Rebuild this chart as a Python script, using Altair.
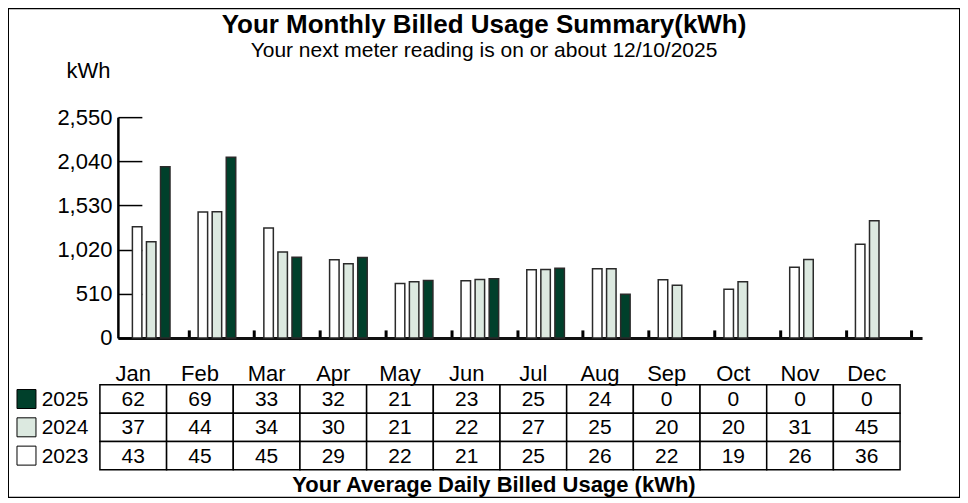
import altair as alt
import pandas as pd

# ---------------- data ----------------
months = ["Jan", "Feb", "Mar", "Apr", "May", "Jun", "Jul", "Aug", "Sep", "Oct", "Nov", "Dec"]
years = ["2023", "2024", "2025"]
rows_top_down = ["2025", "2024", "2023"]

kwh_2023 = [1284, 1454, 1269, 902, 629, 659, 786, 798, 671, 563, 817, 1083]
kwh_2024 = [1110, 1457, 991, 856, 648, 675, 791, 798, 609, 648, 906, 1353]
kwh_2025 = [1978, 2086, 933, 930, 664, 682, 806, 505]  # Jan..Aug

avg_2025 = [62, 69, 33, 32, 21, 23, 25, 24, 0, 0, 0, 0]
avg_2024 = [37, 44, 34, 30, 21, 22, 27, 25, 20, 20, 31, 45]
avg_2023 = [43, 45, 45, 29, 22, 21, 25, 26, 22, 19, 26, 36]

y_ticks = [0, 510, 1020, 1530, 2040, 2550]
year_colors = ["#ffffff", "#dce9e0", "#00402b"]

title_text = "Your Monthly Billed Usage Summary(kWh)"
subtitle_text = "Your next meter reading is on or about 12/10/2025"
table_title = "Your Average Daily Billed Usage (kWh)"

# ---------------- tables ----------------
bar_rows = []
for y, vals in zip(years, [kwh_2023, kwh_2024, kwh_2025]):
    for m, v in zip(months, vals):
        bar_rows.append({"month": m, "year": y, "kwh": v})
df_bars = pd.DataFrame(bar_rows)

tab_rows = []
for y, vals in zip(rows_top_down, [avg_2025, avg_2024, avg_2023]):
    for m, v in zip(months, vals):
        tab_rows.append({"month": m, "year": y, "avg": v})
df_tab = pd.DataFrame(tab_rows)

df_leg = pd.DataFrame({"year": rows_top_down})

W, H = 953, 490
FONT = "Liberation Sans"

# ---------------- scales ----------------
x_bars = alt.Scale(domain=months, range=[110, 915], paddingInner=0, paddingOuter=0.117, align=0.34)
y_bars = alt.Scale(domain=[0, 2550], range=[330, 109], nice=False, zero=True)
x_off = alt.Scale(domain=years, paddingInner=0.325, paddingOuter=1, align=0.33)
col = alt.Scale(domain=years, range=year_colors)
x_tab = alt.Scale(domain=months, range=[92, 893], paddingInner=0, paddingOuter=0)
y_tab = alt.Scale(domain=rows_top_down, range=[377, 462], paddingInner=0, paddingOuter=0)

bars = alt.Chart(df_bars).mark_bar(stroke="#2a2a2a", strokeWidth=1.5).encode(
    x=alt.X("month:N", scale=x_bars, sort=months,
            axis=alt.Axis(orient="top", offset=-330, labels=False, title=None, grid=False,
                          domainColor="#111", domainWidth=3, tickColor="#000", tickWidth=3,
                          tickSize=8, bandPosition=1)),
    xOffset=alt.XOffset("year:N", scale=x_off),
    y=alt.Y("kwh:Q", scale=y_bars,
            axis=alt.Axis(orient="left", offset=-110, values=y_ticks, format=",.0f", ticks=False,
                          domain=False, grid=False, labelFontSize=22, labelPadding=6,
                          labelColor="#000", labelFont=FONT,
                          title="kWh", titleAngle=0, titleX=-30, titleY=69, titleAlign="center",
                          titleBaseline="alphabetic", titleFontSize=22, titleFontWeight="normal",
                          titleFont=FONT, titleColor="#000")),
    color=alt.Color("year:N", scale=col, legend=None),
)

yticks = alt.Chart(df_bars).mark_point(opacity=0).encode(
    y=alt.Y("kwh:Q", scale=y_bars,
            axis=alt.Axis(orient="right", offset=110 - W, values=y_ticks, labels=False, title=None,
                          grid=False, tickSize=24, tickColor="#000", tickWidth=1.5,
                          domainColor="#000", domainWidth=2.5)),
)

cells = alt.Chart(df_tab).mark_rect(fill="white", stroke="#000", strokeWidth=1.5).encode(
    x=alt.X("month:N", scale=x_tab, sort=months,
            axis=alt.Axis(orient="top", offset=-377, ticks=False, domain=False, grid=False,
                          labelFontSize=22, labelPadding=4, labelBaseline="alphabetic",
                          labelAngle=0, labelColor="#000", labelFont=FONT, title=None)),
    y=alt.Y("year:N", scale=y_tab, axis=None),
)

nums = alt.Chart(df_tab).mark_text(fontSize=21, baseline="middle", dy=1, font=FONT, color="#000").encode(
    x=alt.X("month:N", scale=x_tab, sort=months,
            axis=alt.Axis(orient="bottom", offset=462 - H, labels=False, ticks=False, domain=False,
                          grid=False, title=table_title, titleFontSize=22, titleFontWeight="bold",
                          titleFont=FONT, titleColor="#000", titleX=486, titleY=22,
                          titleAlign="center", titleBaseline="alphabetic")),
    y=alt.Y("year:N", scale=y_tab, axis=None),
    text=alt.Text("avg:Q"),
)

leg_sq = alt.Chart(df_leg).mark_square(size=361, stroke="#000", strokeWidth=1, opacity=1).encode(
    x=alt.value(18.5),
    y=alt.Y("year:N", scale=y_tab, axis=None),
    color=alt.Color("year:N", scale=col, legend=None),
)

leg_txt = alt.Chart(df_leg).mark_text(align="left", baseline="middle", dy=1, fontSize=21,
                                      font=FONT, color="#000").encode(
    x=alt.value(33.7),
    y=alt.Y("year:N", scale=y_tab, axis=None),
    text="year:N",
)

chart = alt.layer(bars, yticks, cells, nums, leg_sq, leg_txt).resolve_scale(
    x="independent", y="independent"
).resolve_axis(
    x="independent", y="independent"
).properties(
    width=W, height=H,
    autosize=alt.AutoSizeParams(type="none"),
    padding=0,
    title=alt.Title(title_text, subtitle=subtitle_text, anchor="middle", frame="group",
                    font=FONT, fontSize=26, fontWeight="bold", color="#000",
                    subtitleFont=FONT, subtitleFontSize=21, subtitleColor="#000",
                    offset=-53, subtitlePadding=2),
).configure(font=FONT).configure_view(stroke="#000", strokeWidth=2)

chart.save("out.html", embed_options={"renderer": "svg", "actions": False})
